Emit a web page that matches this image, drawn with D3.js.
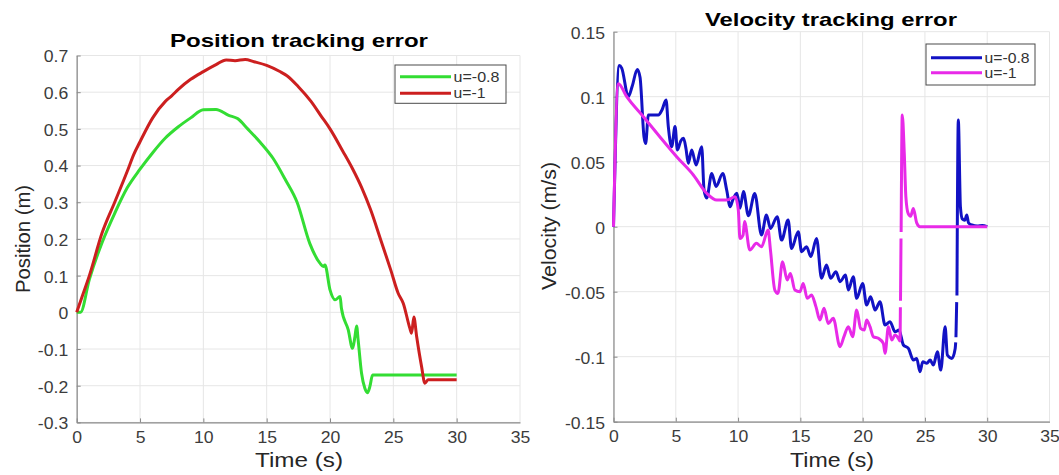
<!DOCTYPE html>
<html><head><meta charset="utf-8">
<script src="https://cdn.jsdelivr.net/npm/d3@7"></script>
<style>
body{margin:0;background:#fff}
svg{display:block}
text{font-family:"Liberation Sans",Arial,Helvetica,sans-serif}
</style>
</head><body>
<svg id="chart" width="1059" height="475"></svg>
<script>
// ---------- data ----------
const timeTicks = [0, 5, 10, 15, 20, 25, 30, 35];
const timeTickLabels = ["0", "5", "10", "15", "20", "25", "30", "35"];
const posTicks = [-0.3, -0.2, -0.1, 0, 0.1, 0.2, 0.3, 0.4, 0.5, 0.6, 0.7];
const posTickLabels = ["-0.3", "-0.2", "-0.1", "0", "0.1", "0.2", "0.3", "0.4", "0.5", "0.6", "0.7"];
const velTicks = [-0.15, -0.1, -0.05, 0, 0.05, 0.1, 0.15];
const velTickLabels = ["-0.15", "-0.1", "-0.05", "0", "0.05", "0.1", "0.15"];
const seriesNames = ["u=-0.8", "u=-1"];

// Position tracking error, u=-0.8
const posT_u08 = [0, 0.3, 1, 2, 3, 4, 5, 6, 7, 8, 9, 10, 11, 12, 12.7, 13.5, 14.5, 15.5, 16.5, 17.4, 18.4, 19.2, 19.47, 19.6, 20.0, 20.4, 20.8, 20.9, 21.44, 21.78, 21.97, 22.1, 22.22, 22.49, 22.75, 22.96, 23.15, 23.36, 23.6, 30];
const posV_u08 = [0, 0.0, 0.09, 0.19, 0.27, 0.34, 0.39, 0.435, 0.475, 0.505, 0.53, 0.552, 0.553, 0.537, 0.528, 0.5, 0.463, 0.42, 0.36, 0.3, 0.188, 0.134, 0.125, 0.129, 0.061, 0.034, 0.043, 0.011, -0.048, -0.098, -0.066, -0.037, -0.075, -0.166, -0.207, -0.219, -0.202, -0.171, -0.171, -0.171];
// Position tracking error, u=-1
const posT_u1 = [0, 0.5, 1, 2, 3, 4, 4.5, 5, 6, 7, 7.5, 8, 9, 10, 11, 11.8, 12.5, 13.3, 14, 15, 16, 16.6, 17.5, 18.5, 19.3, 20, 21, 21.8, 22.5, 23.2, 24, 24.8, 25.38, 25.78, 26.3, 26.44, 26.62, 26.84, 27.23, 27.49, 27.75, 30];
const posV_u1 = [0, 0.05, 0.1, 0.216, 0.3, 0.385, 0.43, 0.465, 0.53, 0.575, 0.59, 0.607, 0.635, 0.656, 0.675, 0.688, 0.686, 0.689, 0.683, 0.673, 0.657, 0.645, 0.615, 0.575, 0.535, 0.5, 0.44, 0.39, 0.34, 0.28, 0.198, 0.115, 0.052, 0.025, -0.043, -0.057, -0.013, -0.066, -0.148, -0.193, -0.184, -0.184];

// Velocity tracking error, u=-0.8 (null = gap in the trace)
const velT_u08 = [0, 0.47, 0.66, 1.19, 1.5, 1.91, 2.13, 2.45, 2.58, 2.8, 3.2, 3.6, 3.9, 4.22, 4.4, 4.67, 4.94, 5.13, 5.4, 5.62, 5.82, 6.0, 6.28, 6.63, 7.08, 7.27, 7.48, 7.89, 8.23, 8.77, 9.09, 9.36, 9.57, 9.9, 10.16, 10.43, 10.83, 11.34, 11.88, 12.28, 12.6, 13.14, 13.49, 14.02, 14.29, 14.83, 15.1, 15.5, 15.84, 16.3, 16.7, 17.1, 17.43, 17.86, 18.18, 18.63, 18.85, 19.25, 19.52, 20.0, 20.32, 20.64, 21.0, 21.39, 21.8, 22.2, 22.6, 22.92, 23.27, 23.67, 24.08, 24.34, 24.6, 24.83, 25.15, 25.42, 25.68, 26.0, 26.27, 26.62, 26.8, 27.16, 27.43, 27.47, 27.48, 27.49, 27.55, 27.56, 27.57, 27.68, 27.85, 28.0, 28.2, 28.36, 28.5, 28.77, 29.2, 29.6, 30];
const velV_u08 = [0, 0.124, 0.122, 0.100, 0.108, 0.121, 0.115, 0.069, 0.064, 0.086, 0.086, 0.086, 0.09, 0.0975, 0.077, 0.0615, 0.077, 0.059, 0.066, 0.068, 0.06, 0.0488, 0.059, 0.0475, 0.0615, 0.028, 0.022, 0.041, 0.031, 0.041, 0.028, 0.0154, 0.0205, 0.0257, 0.0142, 0.027, 0.0085, 0.0256, -0.0064, 0.009, -0.0013, 0.0077, -0.0103, 0.0051, -0.0167, -0.0038, -0.0192, -0.0154, -0.023, -0.009, -0.0397, -0.0295, -0.0397, -0.0346, -0.0423, -0.0372, -0.0487, -0.0385, -0.0551, -0.0436, -0.0603, -0.0538, -0.0641, -0.0577, -0.0756, -0.0731, -0.0808, -0.0795, -0.091, -0.0936, -0.1026, -0.1013, -0.1115, -0.1038, -0.1051, -0.1026, -0.1064, -0.0962, -0.1103, -0.0769, -0.0987, -0.1013, -0.0936, -0.089, null, -0.085, -0.058, null, -0.053, 0.082, 0.015, 0.006, 0.005, 0.009, 0.003, 0.0013, 0.0005, 0.001, 0.0];
// Velocity tracking error, u=-1
const velT_u1 = [0, 0.39, 1.06, 2.4, 3.73, 5.07, 6.41, 7.48, 8.29, 9.09, 9.76, 10.02, 10.15, 10.4, 10.52, 10.94, 11.47, 11.88, 12.41, 12.6, 12.95, 13.2, 13.57, 13.94, 14.2, 14.56, 14.96, 15.23, 15.55, 15.9, 16.25, 16.57, 16.9, 17.24, 17.64, 18.18, 18.5, 18.85, 19.2, 19.52, 19.84, 20.13, 20.32, 20.59, 20.86, 21.26, 21.66, 21.8, 22.07, 22.33, 22.6, 22.87, 23.0, 23.03, 23.035, 23.04, 23.08, 23.085, 23.09, 23.18, 23.34, 23.47, 23.66, 23.85, 24.07, 24.34, 24.6, 30];
const velV_u1 = [0, 0.110, 0.100, 0.0846, 0.069, 0.0538, 0.0398, 0.0257, 0.0205, 0.0205, 0.023, 0.0128, -0.009, -0.0064, 0.004, -0.018, -0.0128, -0.0154, -0.0026, -0.018, -0.0487, -0.0513, -0.0269, -0.041, -0.036, -0.0487, -0.05, -0.0436, -0.0551, -0.0526, -0.0615, -0.0718, -0.0628, -0.0744, -0.0705, -0.0923, -0.0846, -0.0769, -0.0846, -0.0641, -0.0782, -0.0795, -0.0718, -0.0769, -0.0846, -0.0859, -0.0897, -0.0974, -0.0769, -0.0872, -0.0833, -0.0859, -0.088, -0.062, null, -0.057, -0.009, null, -0.004, 0.086, 0.057, 0.023, 0.010, 0.008, 0.014, 0.003, 0.0, 0.0];

// ---------- drawing ----------
const svg = d3.select("#chart");
svg.append("rect").attr("width", 1059).attr("height", 475).attr("fill", "#fff");
const FONT = '"Liberation Sans",Arial,Helvetica,sans-serif';

function stretch(sel, k) {
  sel.each(function () {
    const w = this.getComputedTextLength();
    this.setAttribute("textLength", w * k);
    this.setAttribute("lengthAdjust", "spacingAndGlyphs");
  });
}

function panel(cfg) {
  const x = d3.scaleLinear().domain([0, 35]).range(cfg.xr);
  const y = d3.scaleLinear().domain(cfg.yd).range(cfg.yr);
  const g = svg.append("g");

  // grid
  g.append("g").selectAll("line").data(timeTicks).join("line")
    .attr("x1", d => x(d)).attr("x2", d => x(d))
    .attr("y1", cfg.yr[0]).attr("y2", cfg.yr[1])
    .attr("stroke", "#e6e6e6").attr("stroke-width", 1);
  g.append("g").selectAll("line").data(cfg.yTicks).join("line")
    .attr("x1", cfg.xr[0]).attr("x2", cfg.xr[1])
    .attr("y1", d => y(d)).attr("y2", d => y(d))
    .attr("stroke", "#e6e6e6").attr("stroke-width", 1);

  // axes
  const xa = g.append("g").attr("transform", `translate(0,${cfg.yr[0]})`)
    .call(d3.axisBottom(x).tickValues(timeTicks)
      .tickFormat((d, i) => timeTickLabels[i]).tickSize(-4).tickSizeOuter(0).tickPadding(9.3));
  const ya = g.append("g").attr("transform", `translate(${cfg.xr[0]},0)`)
    .call(d3.axisLeft(y).tickValues(cfg.yTicks)
      .tickFormat((d, i) => cfg.yLabels[i]).tickSize(-4).tickSizeOuter(0).tickPadding(8.5));
  [xa, ya].forEach(a => {
    a.select(".domain").attr("stroke", "#8a8a8a").attr("stroke-width", 1.2);
    a.selectAll(".tick line").attr("stroke", "#8a8a8a");
    a.selectAll(".tick text").attr("fill", "#3c3c3c")
      .style("font-size", "16px").style("font-family", FONT);
    stretch(a.selectAll(".tick text"), 1.1);
  });
  ya.selectAll(".tick text").attr("dy", "0.4em");
  xa.select(".tick:last-of-type line").remove();

  // lines
  const line = d3.line().defined(d => d[1] !== null).curve(d3.curveMonotoneX)
    .x(d => x(d[0])).y(d => y(d[1]));
  cfg.series.forEach(s => {
    g.append("path").datum(d3.zip(s.t, s.v))
      .attr("fill", "none").attr("stroke", s.color).attr("stroke-width", 3)
      .attr("stroke-linejoin", "round").attr("stroke-linecap", "butt")
      .attr("d", line);
  });

  // title
  svg.append("text").attr("x", cfg.title.cx).attr("y", cfg.title.y)
    .attr("text-anchor", "middle").attr("font-weight", "bold").attr("font-size", 19)
    .attr("textLength", cfg.title.w).attr("lengthAdjust", "spacingAndGlyphs")
    .attr("fill", "#000").text(cfg.title.text);
  // x label
  svg.append("text").attr("x", cfg.xl.cx).attr("y", cfg.xl.y)
    .attr("text-anchor", "middle").attr("font-size", 20)
    .attr("textLength", cfg.xl.w).attr("lengthAdjust", "spacingAndGlyphs")
    .attr("fill", "#262626").text("Time (s)");
  // y label
  svg.append("text").attr("transform", `translate(${cfg.yl.x},${cfg.yl.cy}) rotate(-90)`)
    .attr("text-anchor", "middle").attr("font-size", 20)
    .attr("textLength", cfg.yl.w).attr("lengthAdjust", "spacingAndGlyphs")
    .attr("fill", "#262626").text(cfg.yl.text);

  // legend
  const L = cfg.legend;
  const lg = svg.append("g");
  lg.append("rect").attr("x", L.x).attr("y", L.y).attr("width", L.w).attr("height", L.h)
    .attr("fill", "#fff").attr("stroke", "#4a4a4a").attr("stroke-width", 1);
  cfg.series.forEach((s, i) => {
    const yy = L.y + L.rows[i];
    lg.append("line").attr("x1", L.x + 5).attr("x2", L.x + 56)
      .attr("y1", yy).attr("y2", yy).attr("stroke", s.color).attr("stroke-width", 3);
    lg.append("text").attr("x", L.x + 58.5).attr("y", yy + 5)
      .attr("font-size", 14.5).attr("fill", "#333")
      .attr("textLength", L.tw[i]).attr("lengthAdjust", "spacingAndGlyphs")
      .text(seriesNames[i]);
  });
}

panel({
  xr: [76.7, 520], yd: [-0.3, 0.7], yr: [422.4, 55.5],
  yTicks: posTicks, yLabels: posTickLabels,
  series: [
    {t: posT_u08, v: posV_u08, color: "#33dd33"},
    {t: posT_u1, v: posV_u1, color: "#cc1f1f"}
  ],
  title: {text: "Position tracking error", cx: 299, y: 46.7, w: 258},
  xl: {cx: 299, y: 467, w: 88},
  yl: {text: "Position (m)", x: 29.5, cy: 239, w: 108},
  legend: {x: 395, y: 65, w: 111, h: 38.3, rows: [11.7, 28.3], tw: [46, 32]}
});

panel({
  xr: [613.5, 1049.5], yd: [-0.15, 0.15], yr: [421.7, 31.7],
  yTicks: velTicks, yLabels: velTickLabels,
  series: [
    {t: velT_u08, v: velV_u08, color: "#1212c4"},
    {t: velT_u1, v: velV_u1, color: "#e82ae8"}
  ],
  title: {text: "Velocity tracking error", cx: 831, y: 26, w: 252},
  xl: {cx: 832, y: 467, w: 84},
  yl: {text: "Velocity (m/s)", x: 556, cy: 226, w: 128},
  legend: {x: 926, y: 44, w: 109, h: 41, rows: [13.7, 28.7], tw: [45, 32]}
});
</script>
</body></html>
